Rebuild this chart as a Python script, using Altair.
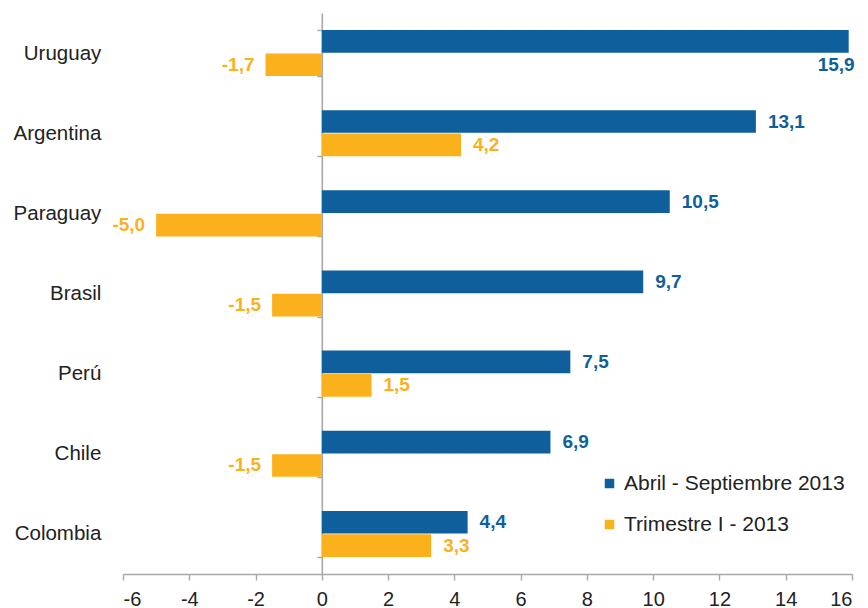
import altair as alt
import pandas as pd

countries = ["Uruguay", "Argentina", "Paraguay", "Brasil", "Perú", "Chile", "Colombia"]
abril_sep = [15.9, 13.1, 10.5, 9.7, 7.5, 6.9, 4.4]
trimestre = [-1.7, 4.2, -5.0, -1.5, 1.5, -1.5, 3.3]
series = ["Abril - Septiembre 2013", "Trimestre I - 2013"]
colors = ["#0F5F9C", "#FBB11B"]

rows = []
for c, a, t in zip(countries, abril_sep, trimestre):
    for s, v in zip(series, [a, t]):
        rows.append({
            "country": c, "series": s, "value": v,
            "label": f"{v:.1f}".replace(".", ","),
        })
df = pd.DataFrame(rows)
df["row"] = df["series"]
# a label that would run off the right edge sits under its bar
over = (df["series"] == series[0]) & (df["value"] > 15)
df.loc[over, "row"] = series[1]
df["kind"] = "pos"
df.loc[df["value"] < 0, "kind"] = "neg"
df.loc[over, "kind"] = "over"

FONT = "Liberation Sans"
AXC = "#A8A8A8"
xmin, xmax = -6, 16
W, H = 729, 561
zero_off = -(0 - xmin) * W / (xmax - xmin)

xenc = alt.X("value:Q", scale=alt.Scale(domain=[xmin, xmax], nice=False),
             axis=alt.Axis(values=list(range(-6, 17, 2)), grid=False, title=None,
                           labelExpr="datum.value + ''"))
yscale = alt.Scale(domain=countries, paddingInner=0.425, paddingOuter=0.2125)
yenc = alt.Y("country:N", sort=countries, scale=yscale,
             axis=alt.Axis(title=None, offset=zero_off, tickBand="extent", tickSize=5,
                           labelPadding=216, labelFontSize=20.5, labelColor="#222222",
                           labelFont=FONT, domainColor=AXC, tickColor=AXC,
                           domainWidth=1.6, tickWidth=1.4))
cscale = alt.Scale(domain=series, range=colors)

bars = alt.Chart(df).mark_bar().encode(
    x=xenc, y=yenc,
    yOffset=alt.YOffset("series:N", sort=series, scale=alt.Scale(domain=series, paddingInner=0.03)),
    color=alt.Color("series:N", scale=cscale, sort=series,
                    legend=alt.Legend(title=None, orient="none", legendX=476, legendY=460,
                                      symbolType="square", symbolSize=90, symbolStrokeWidth=0,
                                      labelFontSize=21, labelFont=FONT, labelColor="#222222",
                                      labelLimit=0, rowPadding=19, labelOffset=4, padding=0)),
)

def lbl(kind, align, dx):
    return alt.Chart(df).transform_filter(alt.datum.kind == kind).mark_text(
        align=align, baseline="middle", dx=dx, fontSize=19, fontWeight="bold", font=FONT
    ).encode(
        x=xenc, y=yenc,
        yOffset=alt.YOffset("row:N", sort=series, scale=alt.Scale(domain=series, paddingInner=0.03)),
        text="label:N",
        color=alt.Color("series:N", scale=cscale, legend=None),
    )

chart = alt.layer(bars, lbl("pos", "left", 12), lbl("neg", "right", -11), lbl("over", "right", 6)).properties(
    width=W, height=H,
    padding={"left": 5, "top": -5, "right": 0, "bottom": 0},
).configure_view(stroke=None).configure_axisX(
    domainColor=AXC, tickColor=AXC, tickSize=6, labelFontSize=20, domainWidth=1.6, tickWidth=1.4,
    labelColor="#222222", labelFont=FONT, labelPadding=9,
).configure_axis(grid=False)

chart.save("out.html", embed_options={"renderer": "svg", "actions": False})
